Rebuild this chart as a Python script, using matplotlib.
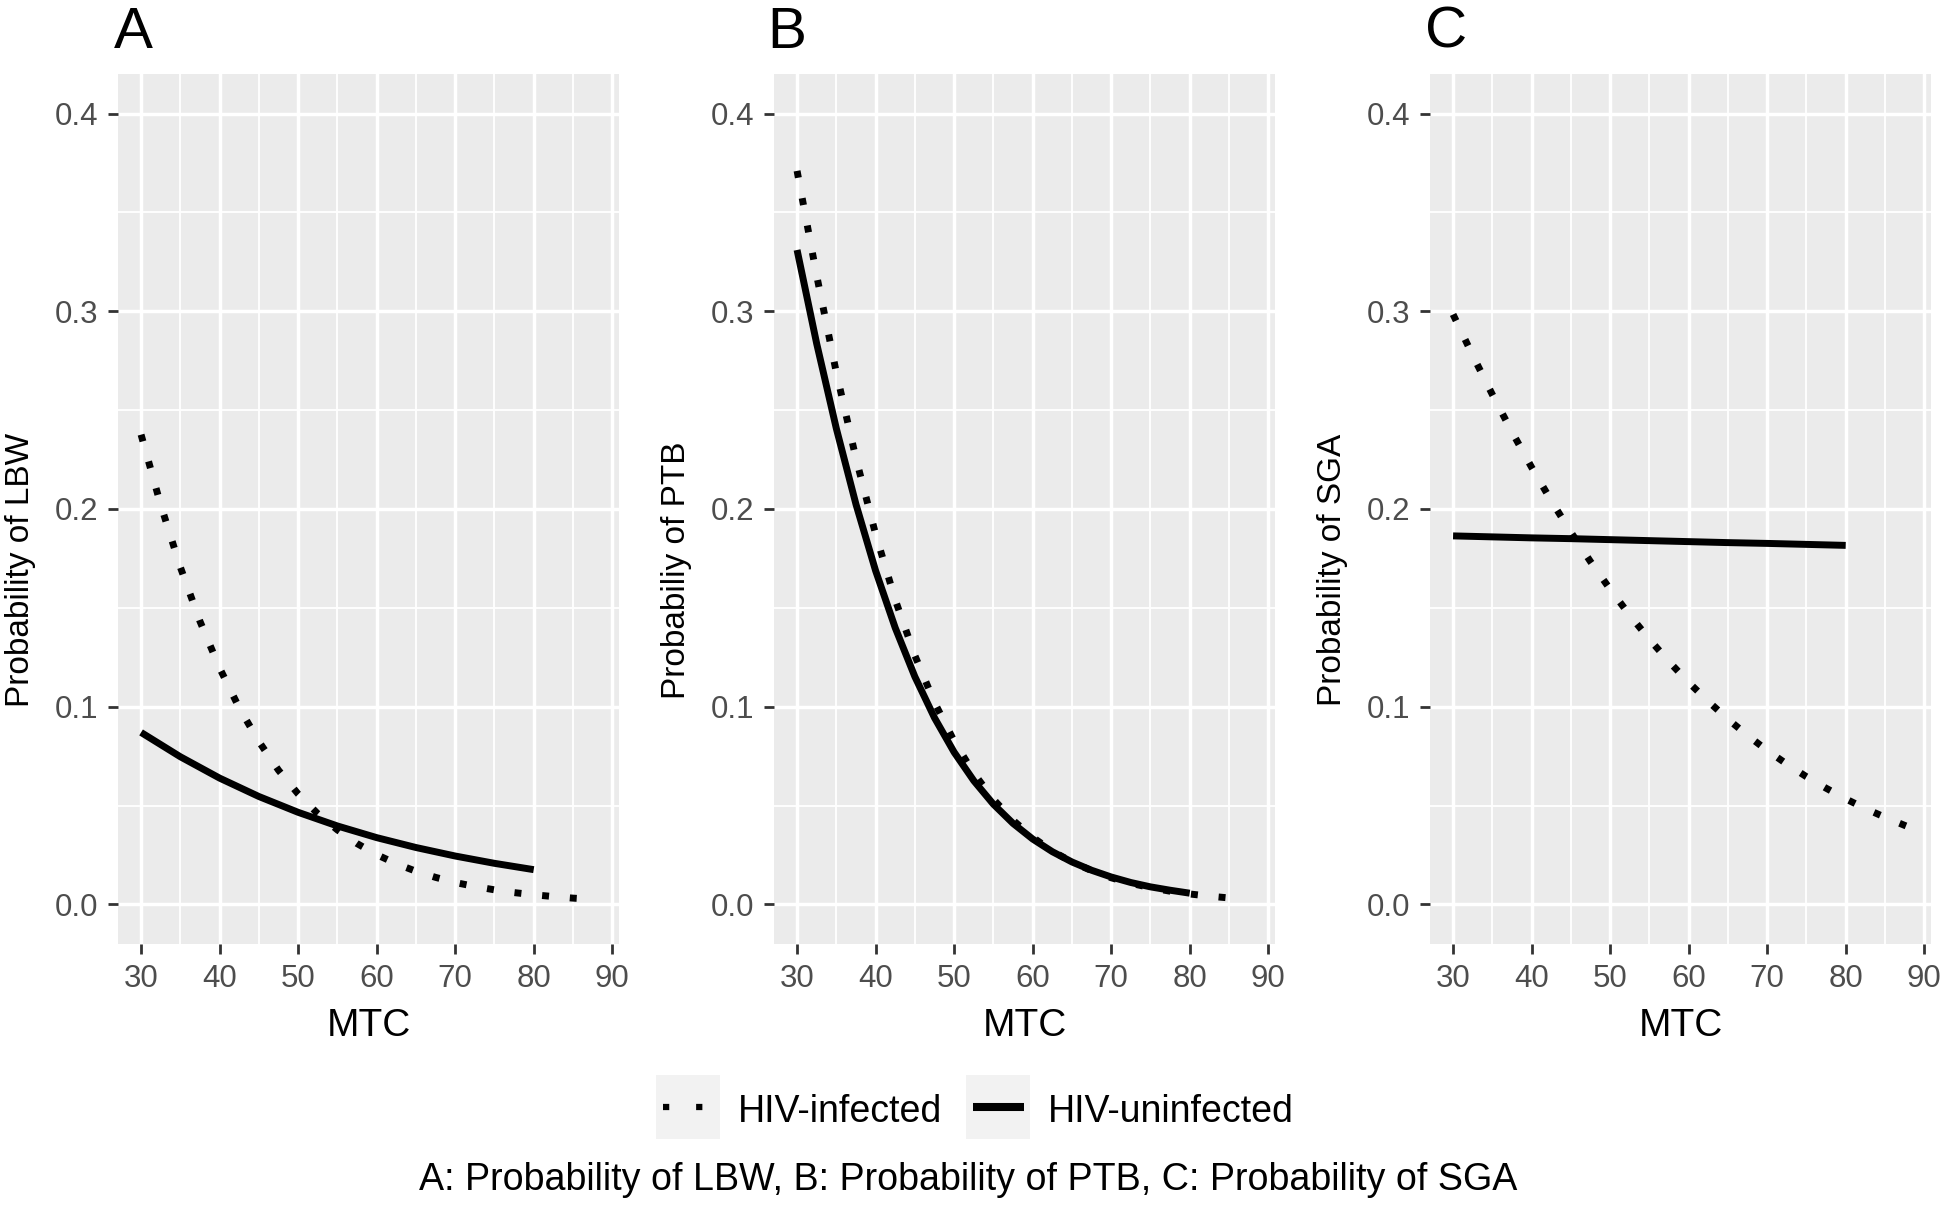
import matplotlib
matplotlib.use("Agg")
import matplotlib.pyplot as plt
from matplotlib.lines import Line2D
from matplotlib.patches import Rectangle
from matplotlib.ticker import MultipleLocator, FormatStrFormatter

plt.rcParams['font.family'] = ['Liberation Sans', 'DejaVu Sans']

# values (MTC on x, probability on y)
mtc_fine = [30, 32.5, 35, 37.5, 40, 42.5, 45, 47.5, 50, 52.5, 55, 57.5,
            60, 62.5, 65, 67.5, 70, 72.5, 75, 77.5, 80, 82.5, 85, 87.5]
mtc_uninf = [30, 35, 40, 45, 50, 55, 60, 65, 70, 75, 80]

# A: LBW
lbw_infected = [0.2376, 0.2021, 0.1706, 0.1432, 0.1196, 0.0994, 0.0824, 0.0679,
                0.0559, 0.0459, 0.0377, 0.0308, 0.0252, 0.0206, 0.0168, 0.0137,
                0.0111, 0.0091, 0.0074, 0.0060, 0.0049, 0.0040, 0.0032, 0.0026]
lbw_uninfected = [0.0870, 0.0747, 0.0639, 0.0546, 0.0466, 0.0397, 0.0338,
                  0.0288, 0.0245, 0.0208, 0.0176]

# B: PTB (infected curve stops near 85.5)
mtc_ptb_inf = [30, 32.5, 35, 37.5, 40, 42.5, 45, 47.5, 50, 52.5, 55, 57.5,
               60, 62.5, 65, 67.5, 70, 72.5, 75, 77.5, 80, 82.5, 85, 85.5]
ptb_infected = [0.371, 0.318, 0.269, 0.2256, 0.1873, 0.1541, 0.1259, 0.1022,
                0.0826, 0.0664, 0.0532, 0.0426, 0.0340, 0.0270, 0.0215, 0.0171,
                0.0135, 0.0107, 0.0085, 0.0067, 0.0053, 0.0042, 0.0033, 0.0031]
mtc_ptb_uninf = [30, 32.5, 35, 37.5, 40, 42.5, 45, 47.5, 50, 52.5, 55, 57.5,
                 60, 62.5, 65, 67.5, 70, 72.5, 75, 77.5, 80]
ptb_uninfected = [0.331, 0.2836, 0.2407, 0.2024, 0.1688, 0.1399, 0.1152, 0.0944,
                  0.0770, 0.0626, 0.0507, 0.0410, 0.0331, 0.0267, 0.0215, 0.0173,
                  0.0139, 0.0111, 0.0089, 0.0072, 0.0057]

# C: SGA
mtc_sga_inf = mtc_fine + [88]
sga_infected = [0.2984, 0.2777, 0.2579, 0.2390, 0.2211, 0.2042, 0.1883, 0.1734,
                0.1594, 0.1463, 0.1341, 0.1228, 0.1123, 0.1027, 0.0937, 0.0855,
                0.0779, 0.0710, 0.0646, 0.0588, 0.0534, 0.0485, 0.0441, 0.0400,
                0.0392]
sga_uninfected = [0.1864, 0.1859, 0.1854, 0.1850, 0.1845, 0.1840, 0.1835,
                  0.1830, 0.1826, 0.1821, 0.1816]

panels = [
    ("A", "Probability of LBW", mtc_fine, lbw_infected, mtc_uninf, lbw_uninfected),
    ("B", "Probabiliy of PTB", mtc_ptb_inf, ptb_infected, mtc_ptb_uninf, ptb_uninfected),
    ("C", "Probability of SGA", mtc_sga_inf, sga_infected, mtc_uninf, sga_uninfected),
]

W, H = 1944, 1206
fig = plt.figure(figsize=(W / 100, H / 100), dpi=100)

def fx(px):
    return px / W

def fy(py):
    return 1 - py / H

narrow = ['Liberation Sans Narrow', 'Liberation Sans', 'DejaVu Sans']
panel_left = [118.3, 774.3, 1430.3]
tag_x = [114, 767, 1425]

for i, (tag, ylab, xi, yi, xu, yu) in enumerate(panels):
    ax = fig.add_axes([fx(panel_left[i]), fy(944), 501 / W, 870 / H])
    ax.set_facecolor('#EBEBEB')
    for s in ax.spines.values():
        s.set_visible(False)

    ax.plot(xi, yi, color='black', lw=5, linestyle=(0, (1, 3)),
            dash_capstyle='butt', zorder=3)
    ax.plot(xu, yu, color='black', lw=5, solid_capstyle='butt', zorder=3)

    ax.set_xlim(27.1, 90.9)
    ax.set_ylim(-0.02, 0.42)
    ax.xaxis.set_major_locator(MultipleLocator(10))
    ax.xaxis.set_minor_locator(MultipleLocator(5))
    ax.yaxis.set_major_locator(MultipleLocator(0.1))
    ax.yaxis.set_minor_locator(MultipleLocator(0.05))
    ax.yaxis.set_major_formatter(FormatStrFormatter('%.1f'))
    ax.set_axisbelow(True)
    ax.grid(which='major', color='white', lw=2.5)
    ax.grid(which='minor', color='white', lw=1.3)
    ax.tick_params(which='major', length=7.5, width=2, color='#333333',
                   labelsize=22.5, labelcolor='#4D4D4D', pad=7)
    ax.tick_params(which='minor', length=0)

    ax.text(0.5, -0.1057, 'MTC', transform=ax.transAxes, ha='center',
            va='baseline', fontsize=28)
    ax.text(-0.196, 0.43, ylab, transform=ax.transAxes, rotation=90,
            ha='center', va='center', fontsize=24, family=narrow)
    fig.text(fx(tag_x[i]), fy(48), tag, fontsize=42, ha='left', va='baseline')

# legend
fig.patches.append(Rectangle((fx(656), fy(1139)), 64 / W, 64 / H,
                             transform=fig.transFigure, facecolor='#F2F2F2',
                             edgecolor='none'))
fig.patches.append(Rectangle((fx(966), fy(1139)), 64 / W, 64 / H,
                             transform=fig.transFigure, facecolor='#F2F2F2',
                             edgecolor='none'))
fig.lines.append(Line2D([fx(663), fx(716)], [fy(1107), fy(1107)],
                        transform=fig.transFigure, color='black', lw=4.5,
                        linestyle=(0, (1, 4.3)), dash_capstyle='butt'))
fig.lines.append(Line2D([fx(973), fx(1024)], [fy(1107), fy(1107)],
                        transform=fig.transFigure, color='black', lw=5.8,
                        solid_capstyle='butt'))
fig.text(fx(738), fy(1122), 'HIV-infected', fontsize=27, va='baseline')
fig.text(fx(1048), fy(1122), 'HIV-uninfected', fontsize=27, va='baseline')

fig.text(fx(968), fy(1190),
         'A: Probability of LBW, B: Probability of PTB, C: Probability of SGA',
         fontsize=27.1, ha='center', va='baseline')

fig.savefig('out.png', dpi=100, facecolor='white')
